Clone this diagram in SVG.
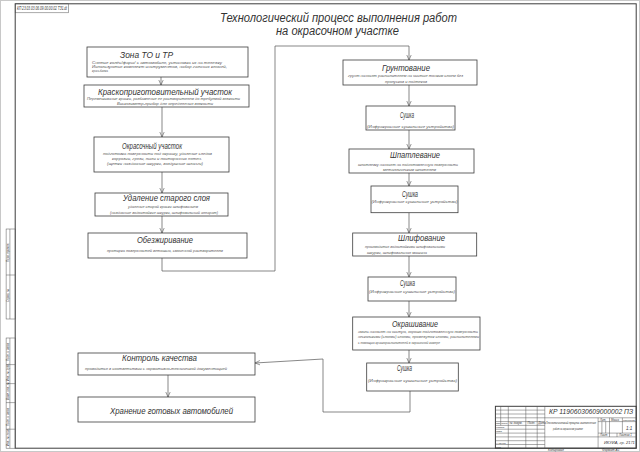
<svg xmlns="http://www.w3.org/2000/svg" width="640" height="452" viewBox="0 0 640 452">
<defs>
<marker id="ar" markerWidth="6" markerHeight="6" refX="5" refY="3" orient="auto" markerUnits="userSpaceOnUse">
<path d="M0,0.8 L5,3 L0,5.2" fill="none" stroke="#555" stroke-width="0.6"/>
</marker>
<style>
.bx{fill:#fff;stroke:#3c3c3c;stroke-width:0.8}
.fr{fill:none;stroke:#3c3c3c;stroke-width:1}
.ln{fill:none;stroke:#555;stroke-width:0.5}
.cn{fill:none;stroke:#555;stroke-width:0.7}
.t{font-family:"Liberation Sans","DejaVu Sans",sans-serif;font-style:italic;fill:#333}
.h{font-size:9.5px}
.s{font-size:4.3px;fill:#555}
.tb{font-size:2.9px;fill:#333}
.big{font-size:12.5px}
</style>
</defs>
<rect width="640" height="452" fill="#fff"/>
<rect x="0.5" y="0.5" width="639" height="451" fill="none" stroke="#c8c8c8" stroke-width="1"/>
<rect class="fr" x="15.2" y="3.8" width="621" height="444.4"/>
<g id="stamp-top">
<rect class="ln" x="15.2" y="3.8" width="53.5" height="9"/>
<text class="t tb" x="17" y="10" textLength="50" lengthAdjust="spacingAndGlyphs" style="font-size:4.6px">КП 23.03.03.06.09.00.00.02 ТЗ1.dt</text>
</g>
<g id="title">
<text class="t big" x="220" y="21.5" textLength="237" lengthAdjust="spacingAndGlyphs">Технологический процесс выполнения работ</text>
<text class="t big" x="276" y="35" textLength="123" lengthAdjust="spacingAndGlyphs">на окрасочном участке</text>
</g>
<g id="connectors">
<line class="cn" x1="161" y1="77" x2="161" y2="85" marker-end="url(#ar)"/>
<line class="cn" x1="162" y1="107" x2="162" y2="137" marker-end="url(#ar)"/>
<line class="cn" x1="162" y1="172" x2="162" y2="193" marker-end="url(#ar)"/>
<line class="cn" x1="162" y1="216" x2="162" y2="233" marker-end="url(#ar)"/>
<polyline class="cn" points="162,258 162,271 275,271 275,46 409,46 409,60" marker-end="url(#ar)"/>
<line class="cn" x1="409" y1="85" x2="409" y2="106" marker-end="url(#ar)"/>
<line class="cn" x1="409" y1="130" x2="409" y2="149" marker-end="url(#ar)"/>
<line class="cn" x1="409" y1="173" x2="409" y2="186" marker-end="url(#ar)"/>
<line class="cn" x1="409" y1="212.7" x2="409" y2="233" marker-end="url(#ar)"/>
<line class="cn" x1="409" y1="256" x2="409" y2="277" marker-end="url(#ar)"/>
<line class="cn" x1="409" y1="301" x2="409" y2="317" marker-end="url(#ar)"/>
<line class="cn" x1="409" y1="350" x2="409" y2="363" marker-end="url(#ar)"/>
<polyline class="cn" points="410,391 410,412 323,412 323,359 255,363" marker-end="url(#ar)"/>
<line class="cn" x1="168" y1="375" x2="168" y2="397" marker-end="url(#ar)"/>
</g>
<g id="n1">
<rect class="bx" x="87" y="47" width="161" height="30"/>
<text class="t h" x="120" y="57.6" textLength="53" lengthAdjust="spacingAndGlyphs">Зона ТО и ТР</text>
<text class="t s" x="92" y="63.6" textLength="130" lengthAdjust="spacingAndGlyphs">Снятие колёс/фары/ с автомобиля, установка их на тележку</text>
<text class="t s" x="92" y="67.8" textLength="135" lengthAdjust="spacingAndGlyphs">Используются комплект инструментов, набор гаечных ключей,</text>
<text class="t s" x="92" y="72" textLength="16" lengthAdjust="spacingAndGlyphs">кран-балка</text>
</g>
<g id="n2">
<rect class="bx" x="84" y="85" width="165" height="22"/>
<text class="t h" x="98" y="95" textLength="134" lengthAdjust="spacingAndGlyphs">Краскоприготовительный участок</text>
<text class="t s" x="87" y="99.5" textLength="153" lengthAdjust="spacingAndGlyphs">Перемешивание краски, разбавление ее растворителем до требуемой вязкости</text>
<text class="t s" x="117" y="105" textLength="96" lengthAdjust="spacingAndGlyphs">Вискозиметр-прибор для определения вязкости</text>
</g>
<g id="n3">
<rect class="bx" x="94" y="137" width="135" height="35"/>
<text class="t h" x="122" y="149" textLength="60" lengthAdjust="spacingAndGlyphs">Окрасочный участок</text>
<text class="t s" x="103" y="155" textLength="109" lengthAdjust="spacingAndGlyphs">подготовка поверхности под окраску, удаление следов</text>
<text class="t s" x="112" y="160" textLength="90" lengthAdjust="spacingAndGlyphs">коррозии, грязи, пыли и посторонних пятен.</text>
<text class="t s" x="107" y="165" textLength="96" lengthAdjust="spacingAndGlyphs">(щетки наждачные шкурки, воздушные шланги)</text>
</g>
<g id="n4">
<rect class="bx" x="95" y="193" width="133" height="23"/>
<text class="t h" x="123" y="201" textLength="87" lengthAdjust="spacingAndGlyphs">Удаление старого слоя</text>
<text class="t s" x="128" y="208" textLength="70" lengthAdjust="spacingAndGlyphs">удаление старой краски шлифованием</text>
<text class="t s" x="110" y="214" textLength="108" lengthAdjust="spacingAndGlyphs">(наждачные водостойкие шкурки, шлифовальный аппарат)</text>
</g>
<g id="n5">
<rect class="bx" x="88" y="233" width="159" height="25"/>
<text class="t h" x="137" y="243" textLength="56" lengthAdjust="spacingAndGlyphs">Обезжиривание</text>
<text class="t s" x="107" y="251.5" textLength="116" lengthAdjust="spacingAndGlyphs">протирка поверхностей ветошью, смоченной растворителем</text>
</g>
<g id="n6">
<rect class="bx" x="343" y="60" width="134" height="25"/>
<text class="t h" x="382" y="71" textLength="48" lengthAdjust="spacingAndGlyphs">Грунтование</text>
<text class="t s" x="348" y="76.5" textLength="115" lengthAdjust="spacingAndGlyphs">грунт наносят распылителем на чистые тонким слоем без</text>
<text class="t s" x="385" y="82.5" textLength="42" lengthAdjust="spacingAndGlyphs">пропусков и подтеков</text>
</g>
<g id="n7">
<rect class="bx" x="366" y="106" width="89" height="24"/>
<text class="t h" x="400" y="118" textLength="14" lengthAdjust="spacingAndGlyphs">Сушка</text>
<text class="t s" x="367" y="127.5" textLength="87" lengthAdjust="spacingAndGlyphs">(Инфракрасные сушильные устройства)</text>
</g>
<g id="n8">
<rect class="bx" x="349" y="149" width="125" height="24"/>
<text class="t h" x="390" y="158" textLength="50" lengthAdjust="spacingAndGlyphs">Шпатлевание</text>
<text class="t s" x="358" y="165.5" textLength="100" lengthAdjust="spacingAndGlyphs">шпатлевку наносят на подготовленную поверхность</text>
<text class="t s" x="383" y="171" textLength="53" lengthAdjust="spacingAndGlyphs">металлическим шпателем</text>
</g>
<g id="n9">
<rect class="bx" x="371" y="186" width="87" height="26.7"/>
<text class="t h" x="402" y="196.5" textLength="16" lengthAdjust="spacingAndGlyphs">Сушка</text>
<text class="t s" x="371.5" y="203" textLength="86" lengthAdjust="spacingAndGlyphs">(Инфракрасные сушильные устройства)</text>
</g>
<g id="n10">
<rect class="bx" x="352.7" y="233" width="124" height="23"/>
<text class="t h" x="398" y="241" textLength="47" lengthAdjust="spacingAndGlyphs">Шлифование</text>
<text class="t s" x="365" y="247.5" textLength="80" lengthAdjust="spacingAndGlyphs">производится водостойкими шлифовальными</text>
<text class="t s" x="367" y="254" textLength="60" lengthAdjust="spacingAndGlyphs">шкурки, шлифовальная машина</text>
</g>
<g id="n11">
<rect class="bx" x="368" y="277" width="88" height="24"/>
<text class="t h" x="400" y="286" textLength="15" lengthAdjust="spacingAndGlyphs">Сушка</text>
<text class="t s" x="369" y="292.5" textLength="86" lengthAdjust="spacingAndGlyphs">(Инфракрасные сушильные устройства)</text>
</g>
<g id="n12">
<rect class="bx" x="352.7" y="317" width="127.3" height="33"/>
<text class="t h" x="392" y="327" textLength="46" lengthAdjust="spacingAndGlyphs">Окрашивание</text>
<text class="t s" x="358" y="333" textLength="120" lengthAdjust="spacingAndGlyphs">эмаль наносят на чистую, хорошо подготовленную поверхность</text>
<text class="t s" x="358" y="338" textLength="121" lengthAdjust="spacingAndGlyphs">несколькими (слоями) слоями, промежуток слоями, распылителями</text>
<text class="t s" x="358" y="343.5" textLength="82" lengthAdjust="spacingAndGlyphs">с помощью краскораспылителей в окрасочной камере</text>
</g>
<g id="n13">
<rect class="bx" x="366.7" y="363" width="91.6" height="28"/>
<text class="t h" x="397" y="370.5" textLength="15" lengthAdjust="spacingAndGlyphs">Сушка</text>
<text class="t s" x="368" y="381.5" textLength="89" lengthAdjust="spacingAndGlyphs">(Инфракрасные сушильные устройства)</text>
</g>
<g id="n14">
<rect class="bx" x="78" y="353" width="177" height="22"/>
<text class="t h" x="122" y="361" textLength="75" lengthAdjust="spacingAndGlyphs">Контроль качества</text>
<text class="t s" x="85" y="370" textLength="142" lengthAdjust="spacingAndGlyphs">проводится в соответствии с нормативно-технической документацией</text>
</g>
<g id="n15">
<rect class="bx" x="78" y="397" width="177" height="25"/>
<text class="t h" x="110" y="414" textLength="123" lengthAdjust="spacingAndGlyphs">Хранение готовых автомобилей</text>
</g>
<g id="side-strip">
<rect class="ln" x="6.1" y="229" width="9.1" height="90"/>
<line class="ln" x1="6.1" y1="275" x2="15.2" y2="275"/>
<line class="ln" x1="9.9" y1="229" x2="9.9" y2="319"/>
<text class="t tb" transform="translate(9.2,262) rotate(-90)">Перв. примен.</text>
<text class="t tb" transform="translate(9.2,302) rotate(-90)">Справ. №</text>
<rect class="ln" x="6.1" y="338" width="9.1" height="110.2"/>
<line class="ln" x1="9.9" y1="338" x2="9.9" y2="448.2"/>
<line class="ln" x1="6.1" y1="364.6" x2="15.2" y2="364.6"/>
<line class="ln" x1="6.1" y1="383.6" x2="15.2" y2="383.6"/>
<line class="ln" x1="6.1" y1="402.6" x2="15.2" y2="402.6"/>
<line class="ln" x1="6.1" y1="429.2" x2="15.2" y2="429.2"/>
<text class="t tb" transform="translate(9.2,361) rotate(-90)">Подп. и дата</text>
<text class="t tb" transform="translate(9.2,381) rotate(-90)">Инв. № дубл.</text>
<text class="t tb" transform="translate(9.2,400) rotate(-90)">Взам. инв. №</text>
<text class="t tb" transform="translate(9.2,426) rotate(-90)">Подп. и дата</text>
<text class="t tb" transform="translate(9.2,446) rotate(-90)">Инв. № подл.</text>
</g>
<g id="title-block">
<rect class="fr" x="495.4" y="406.3" width="140.8" height="41.9"/>
<g class="ln">
<line x1="500.7" y1="406.3" x2="500.7" y2="425.4"/>
<line x1="508.3" y1="406.3" x2="508.3" y2="448.2"/>
<line x1="525.8" y1="406.3" x2="525.8" y2="448.2"/>
<line x1="537.2" y1="406.3" x2="537.2" y2="448.2"/>
<line x1="544.8" y1="406.3" x2="544.8" y2="448.2"/>
<line x1="495.4" y1="410.1" x2="544.8" y2="410.1"/>
<line x1="495.4" y1="414" x2="544.8" y2="414"/>
<line x1="495.4" y1="417.8" x2="636.2" y2="417.8"/>
<line x1="495.4" y1="421.6" x2="544.8" y2="421.6"/>
<line x1="495.4" y1="425.4" x2="544.8" y2="425.4"/>
<line x1="495.4" y1="429.2" x2="544.8" y2="429.2"/>
<line x1="495.4" y1="433.1" x2="544.8" y2="433.1"/>
<line x1="495.4" y1="436.9" x2="636.2" y2="436.9"/>
<line x1="495.4" y1="440.7" x2="544.8" y2="440.7"/>
<line x1="495.4" y1="444.5" x2="544.8" y2="444.5"/>
<line x1="598.1" y1="417.8" x2="598.1" y2="448.2"/>
<line x1="598.1" y1="421.6" x2="636.2" y2="421.6"/>
<line x1="598.1" y1="433.1" x2="636.2" y2="433.1"/>
<line x1="601.9" y1="421.6" x2="601.9" y2="433.1"/>
<line x1="605.7" y1="421.6" x2="605.7" y2="433.1"/>
<line x1="609.5" y1="417.8" x2="609.5" y2="436.9"/>
<line x1="622.4" y1="417.8" x2="622.4" y2="433.1"/>
<line x1="617" y1="433.1" x2="617" y2="436.9"/>
</g>
<text class="t" x="549" y="414" style="font-size:7px" textLength="84" lengthAdjust="spacingAndGlyphs">КР 11906030609000002 ПЗ</text>
<text class="t tb" x="495.9" y="424.4" style="font-size:2.3px">Изм.</text>
<text class="t tb" x="501.2" y="424.4" style="font-size:2.5px">Лист</text>
<text class="t tb" x="509.5" y="424.4">№ докум.</text>
<text class="t tb" x="527.5" y="424.4">Подп.</text>
<text class="t tb" x="538.3" y="424.4">Дата</text>
<text class="t tb" x="496" y="428.3" style="font-size:2.4px">Разраб.</text>
<text class="t tb" x="496" y="432.2" style="font-size:2.4px">Пров.</text>
<text class="t tb" x="496" y="443.7" style="font-size:2.4px">Н.контр.</text>
<text class="t tb" x="496" y="447.5" style="font-size:2.4px">Утв.</text>
<text class="t tb" x="546" y="423.5" textLength="50" lengthAdjust="spacingAndGlyphs" style="font-size:3.8px">Технологический процесс выполнения</text>
<text class="t tb" x="553" y="430" textLength="30" lengthAdjust="spacingAndGlyphs" style="font-size:2.9px">работ на окрасочном участке</text>
<text class="t tb" x="600" y="420.6" style="font-size:2.7px">Лит.</text>
<text class="t tb" x="611" y="420.6" style="font-size:2.7px">Масса</text>
<text class="t tb" x="623" y="420.6" style="font-size:2.5px">Масштаб</text>
<text class="t tb" x="626" y="429.5" style="font-size:4.5px">1:1</text>
<text class="t tb" x="600" y="435.8">Лист</text>
<text class="t tb" x="619" y="435.8">Листов 1</text>
<text class="t tb" x="604" y="444" style="font-size:4px">ИКУИА, гр. 2171</text>
</g>
<text class="t tb" x="548" y="451.2" style="font-size:3.2px">Копировал</text>
<text class="t tb" x="602" y="451.2" style="font-size:3.2px">Формат А1</text>
</svg>
